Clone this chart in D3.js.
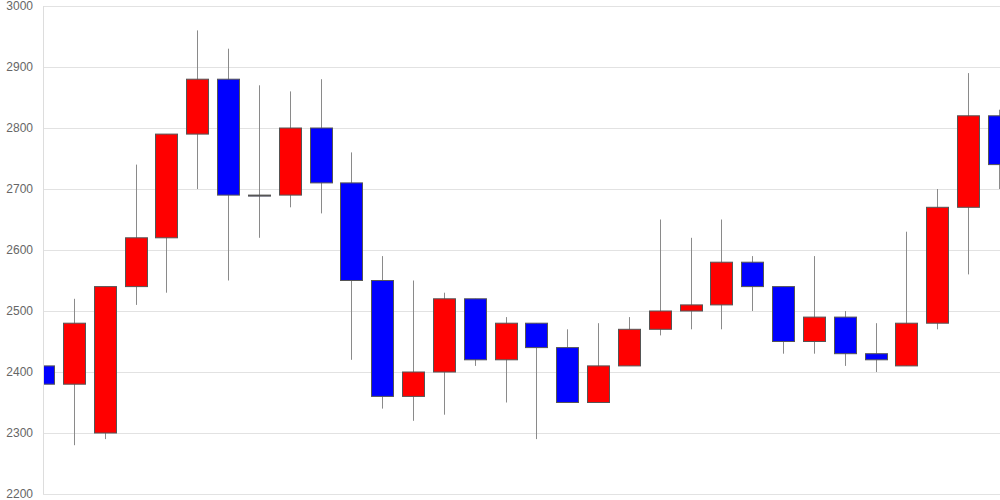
<!DOCTYPE html>
<html>
<head>
<meta charset="utf-8">
<script src="https://cdn.jsdelivr.net/npm/d3@7"></script>
<style>
  body { margin: 0; background: #fff; }
  svg { display: block; }
</style>
</head>
<body>
<div id="chart"></div>
<script>
// Candle data, oldest first
var opens  = [2410, 2380, 2300, 2540, 2620, 2790, 2880, 2690, 2690, 2800, 2710, 2550, 2360, 2400, 2520, 2420,
              2480, 2440, 2350, 2410, 2470, 2500, 2510, 2580, 2540, 2450, 2490, 2430, 2410, 2480, 2670, 2820];
var closes = [2380, 2480, 2540, 2620, 2790, 2880, 2690, 2690, 2800, 2710, 2550, 2360, 2400, 2520, 2420, 2480,
              2440, 2350, 2410, 2470, 2500, 2510, 2580, 2540, 2450, 2490, 2430, 2420, 2480, 2670, 2820, 2740];
var highs  = [2430, 2520, 2540, 2740, 2790, 2960, 2930, 2870, 2860, 2880, 2760, 2590, 2550, 2530, 2520, 2490,
              2480, 2470, 2480, 2490, 2650, 2620, 2650, 2590, 2540, 2590, 2500, 2480, 2630, 2700, 2890, 2830];
var lows   = [2340, 2280, 2290, 2510, 2530, 2700, 2550, 2620, 2670, 2660, 2420, 2340, 2320, 2330, 2410, 2350,
              2290, 2350, 2350, 2410, 2460, 2470, 2470, 2500, 2430, 2430, 2410, 2400, 2410, 2470, 2560, 2700];
var yTicks = [2200, 2300, 2400, 2500, 2600, 2700, 2800, 2900, 3000];

var W = 1000, H = 500;
var margin = { top: 6, right: 1, bottom: 6, left: 43 };

var data = opens.map(function(o, i) {
    return { i: i, open: o, close: closes[i], high: highs[i], low: lows[i] };
});

var svg = d3.select("#chart").append("svg")
    .attr("width", W)
    .attr("height", H);

var x = d3.scaleLinear()
    .domain([0, data.length - 1])
    .range([margin.left, W - margin.right]);

var y = d3.scaleLinear()
    .domain([2200, 3000])
    .range([H - margin.bottom, margin.top]);

var bodyW = 22;

// grid lines
svg.append("g")
    .selectAll("line")
    .data(yTicks)
    .enter().append("line")
    .attr("x1", margin.left)
    .attr("x2", W)
    .attr("y1", function(d) { return Math.round(y(d)) + 0.5; })
    .attr("y2", function(d) { return Math.round(y(d)) + 0.5; })
    .attr("stroke", "#e2e2e2");

// y axis labels
svg.append("g")
    .selectAll("text")
    .data(yTicks)
    .enter().append("text")
    .attr("x", 33)
    .attr("y", function(d) { return y(d); })
    .attr("dy", "0.35em")
    .attr("text-anchor", "end")
    .style("font-family", "'Liberation Sans', Arial, sans-serif")
    .style("font-size", "12px")
    .style("fill", "#666")
    .text(function(d) { return d; });

// clip to plot area
svg.append("clipPath").attr("id", "plot")
    .append("rect")
    .attr("x", margin.left)
    .attr("y", 0)
    .attr("width", W - margin.left)
    .attr("height", H);

var plot = svg.append("g").attr("clip-path", "url(#plot)");

// wicks
plot.selectAll("line.wick")
    .data(data)
    .enter().append("line")
    .attr("class", "wick")
    .attr("x1", function(d) { return Math.round(x(d.i)) + 0.5; })
    .attr("x2", function(d) { return Math.round(x(d.i)) + 0.5; })
    .attr("y1", function(d) { return y(d.high); })
    .attr("y2", function(d) { return y(d.low); })
    .attr("stroke", "#8a8a8a")
    .attr("stroke-width", 1);

// bodies
plot.selectAll("rect.body")
    .data(data)
    .enter().append("rect")
    .attr("class", "body")
    .attr("x", function(d) { return Math.round(x(d.i) - bodyW / 2) + 0.5; })
    .attr("y", function(d) { return y(Math.max(d.open, d.close)); })
    .attr("width", bodyW)
    .attr("height", function(d) { return Math.max(1, y(Math.min(d.open, d.close)) - y(Math.max(d.open, d.close))); })
    .attr("fill", function(d) { return d.close > d.open ? "#ff0000" : "#0000ff"; })
    .attr("stroke", "#555")
    .attr("stroke-width", 1);

// vertical axis line
svg.append("line")
    .attr("x1", margin.left + 0.5)
    .attr("x2", margin.left + 0.5)
    .attr("y1", margin.top)
    .attr("y2", H - margin.bottom)
    .attr("stroke", "#ddd");
</script>
</body>
</html>
